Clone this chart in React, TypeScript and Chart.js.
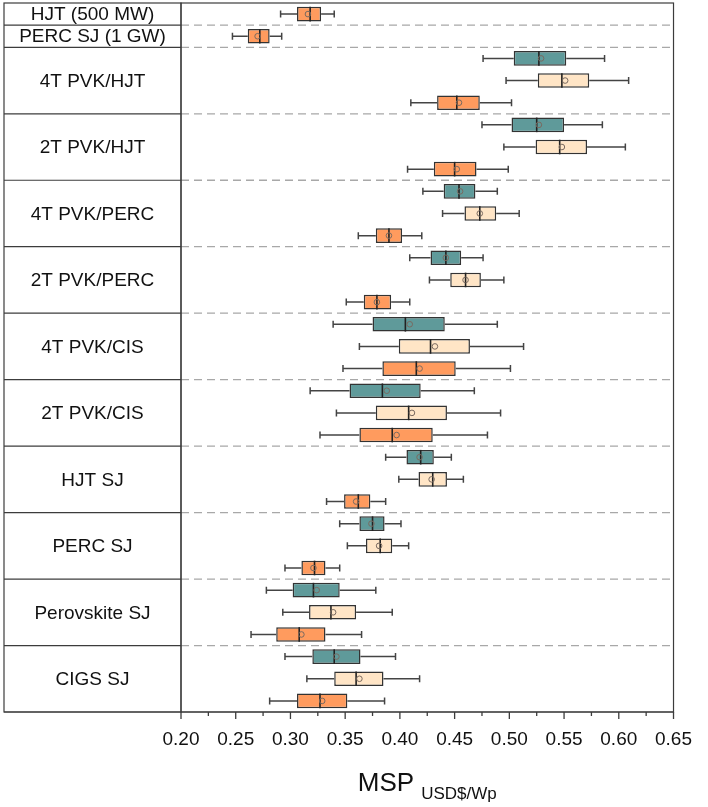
import React, { useEffect, useRef } from 'react';
import { Chart, registerables } from 'chart.js';
Chart.register(...registerables);

const singleRows = ['HJT (500 MW)', 'PERC SJ (1 GW)'];
const groups = ['4T PVK/HJT', '2T PVK/HJT', '4T PVK/PERC', '2T PVK/PERC', '4T PVK/CIS', '2T PVK/CIS', 'HJT SJ', 'PERC SJ', 'Perovskite SJ', 'CIGS SJ'];
const xTicks = [0.2, 0.25, 0.3, 0.35, 0.4, 0.45, 0.5, 0.55, 0.6, 0.65];

// teal series (one per group)
const tealMin = [0.476, 0.475, 0.421, 0.409, 0.339, 0.318, 0.387, 0.345, 0.278, 0.295];
const tealQ1 = [0.504, 0.502, 0.440, 0.428, 0.375, 0.354, 0.406, 0.363, 0.302, 0.320];
const tealMed = [0.527, 0.525, 0.454, 0.442, 0.405, 0.384, 0.419, 0.375, 0.321, 0.340];
const tealQ3 = [0.552, 0.550, 0.469, 0.456, 0.441, 0.419, 0.431, 0.386, 0.345, 0.364];
const tealMax = [0.587, 0.585, 0.489, 0.476, 0.489, 0.468, 0.447, 0.401, 0.378, 0.396];
const tealMean = [0.529, 0.527, 0.455, 0.442, 0.409, 0.388, 0.418, 0.374, 0.324, 0.342];

// light peach series (one per group)
const peachMin = [0.497, 0.495, 0.439, 0.427, 0.363, 0.342, 0.399, 0.352, 0.293, 0.315];
const peachQ1 = [0.526, 0.524, 0.459, 0.446, 0.399, 0.378, 0.417, 0.369, 0.317, 0.340];
const peachMed = [0.548, 0.546, 0.473, 0.460, 0.428, 0.408, 0.430, 0.382, 0.337, 0.360];
const peachQ3 = [0.573, 0.571, 0.488, 0.474, 0.464, 0.443, 0.443, 0.393, 0.360, 0.385];
const peachMax = [0.609, 0.606, 0.509, 0.495, 0.513, 0.492, 0.458, 0.408, 0.393, 0.418];
const peachMean = [0.551, 0.548, 0.473, 0.460, 0.432, 0.411, 0.429, 0.381, 0.339, 0.363];

// orange series (two single rows, then one per group)
const orangeMin = [0.291, 0.247, 0.410, 0.407, 0.362, 0.351, 0.348, 0.327, 0.333, 0.295, 0.264, 0.281];
const orangeQ1 = [0.306, 0.261, 0.434, 0.431, 0.378, 0.367, 0.384, 0.363, 0.349, 0.310, 0.287, 0.306];
const orangeMed = [0.318, 0.272, 0.452, 0.450, 0.390, 0.379, 0.415, 0.393, 0.362, 0.322, 0.308, 0.327];
const orangeQ3 = [0.328, 0.281, 0.473, 0.470, 0.402, 0.392, 0.451, 0.430, 0.373, 0.332, 0.332, 0.352];
const orangeMax = [0.340, 0.292, 0.502, 0.499, 0.420, 0.409, 0.501, 0.480, 0.387, 0.345, 0.365, 0.386];
const orangeMean = [0.316, 0.270, 0.454, 0.452, 0.390, 0.379, 0.418, 0.397, 0.360, 0.321, 0.310, 0.329];

const FONT = '"Liberation Sans", Arial, sans-serif';
const TEAL = '#5f9a9a';
const PEACH = '#ffe5c6';
const ORANGE = '#ff9b5e';
const EDGE = '#333333';

const nSlots = singleRows.length + groups.length * 3;
const slotLabels = Array.from({ length: nSlots }, (_, i) => 'slot' + i);

type Stat = { min: number; q1: number; med: number; q3: number; max: number; mean: number };
function buildSeries(which: 'teal' | 'peach' | 'orange'): (Stat | null)[] {
  const out: (Stat | null)[] = new Array(nSlots).fill(null);
  if (which === 'orange') {
    for (let i = 0; i < singleRows.length; i++) {
      out[i] = { min: orangeMin[i], q1: orangeQ1[i], med: orangeMed[i], q3: orangeQ3[i], max: orangeMax[i], mean: orangeMean[i] };
    }
  }
  for (let g = 0; g < groups.length; g++) {
    const base = singleRows.length + g * 3;
    if (which === 'teal') out[base] = { min: tealMin[g], q1: tealQ1[g], med: tealMed[g], q3: tealQ3[g], max: tealMax[g], mean: tealMean[g] };
    if (which === 'peach') out[base + 1] = { min: peachMin[g], q1: peachQ1[g], med: peachMed[g], q3: peachQ3[g], max: peachMax[g], mean: peachMean[g] };
    if (which === 'orange') {
      const k = singleRows.length + g;
      out[base + 2] = { min: orangeMin[k], q1: orangeQ1[k], med: orangeMed[k], q3: orangeQ3[k], max: orangeMax[k], mean: orangeMean[k] };
    }
  }
  return out;
}

const boxExtras = {
  id: 'boxExtras',
  beforeDatasetsDraw(chart: any) {
    const { ctx, chartArea } = chart;
    const y = chart.scales.y;
    ctx.save();
    ctx.strokeStyle = '#a8a8a8';
    ctx.lineWidth = 1.3;
    ctx.setLineDash([8, 5]);
    const bounds: number[] = [];
    for (let i = 0; i < singleRows.length; i++) bounds.push(i);
    for (let g = 0; g < groups.length - 1; g++) bounds.push(singleRows.length + g * 3 + 2);
    bounds.forEach((k) => {
      const py = (y.getPixelForValue(k) + y.getPixelForValue(k + 1)) / 2;
      ctx.beginPath();
      ctx.moveTo(chartArea.left, py);
      ctx.lineTo(chartArea.right, py);
      ctx.stroke();
    });
    ctx.setLineDash([]);
    const tl = 4;
    const tr = chartArea.left;
    ctx.strokeStyle = '#3c3c3c';
    ctx.lineWidth = 1.2;
    ctx.strokeRect(tl, chartArea.top, tr - tl, chartArea.bottom - chartArea.top);
    bounds.forEach((k) => {
      const py = (y.getPixelForValue(k) + y.getPixelForValue(k + 1)) / 2;
      ctx.beginPath();
      ctx.moveTo(tl, py);
      ctx.lineTo(tr, py);
      ctx.stroke();
    });
    ctx.fillStyle = '#111';
    ctx.font = '19px ' + FONT;
    ctx.textAlign = 'center';
    ctx.textBaseline = 'middle';
    const cx = (tl + tr) / 2;
    singleRows.forEach((lab, i) => ctx.fillText(lab, cx, y.getPixelForValue(i) + 1));
    groups.forEach((lab, g) => ctx.fillText(lab, cx, y.getPixelForValue(singleRows.length + g * 3 + 1) + 1));
    ctx.restore();
  },
  afterDatasetsDraw(chart: any) {
    const { ctx } = chart;
    const x = chart.scales.x;
    ctx.save();
    chart.data.datasets.forEach((ds: any, di: number) => {
      const meta = chart.getDatasetMeta(di);
      ds.stats.forEach((s: Stat | null, i: number) => {
        if (!s) return;
        const bar = meta.data[i];
        const cy = bar.y;
        const h = bar.height;
        const pMin = x.getPixelForValue(s.min);
        const pQ1 = x.getPixelForValue(s.q1);
        const pQ3 = x.getPixelForValue(s.q3);
        const pMax = x.getPixelForValue(s.max);
        const pMed = x.getPixelForValue(s.med);
        const pMean = x.getPixelForValue(s.mean);
        ctx.strokeStyle = '#444';
        ctx.lineWidth = 1.5;
        ctx.beginPath();
        ctx.moveTo(pMin, cy); ctx.lineTo(pQ1, cy);
        ctx.moveTo(pQ3, cy); ctx.lineTo(pMax, cy);
        ctx.moveTo(pMin, cy - 3.5); ctx.lineTo(pMin, cy + 3.5);
        ctx.moveTo(pMax, cy - 3.5); ctx.lineTo(pMax, cy + 3.5);
        ctx.stroke();
        ctx.strokeStyle = '#222';
        ctx.lineWidth = 1.6;
        ctx.beginPath();
        ctx.moveTo(pMed, cy - h / 2); ctx.lineTo(pMed, cy + h / 2);
        ctx.stroke();
        ctx.strokeStyle = '#7a6a60';
        ctx.lineWidth = 1;
        ctx.beginPath();
        ctx.arc(pMean, cy, 2.8, 0, Math.PI * 2);
        ctx.stroke();
      });
    });
    ctx.restore();
  },
  afterDraw(chart: any) {
    const { ctx, chartArea } = chart;
    const x = chart.scales.x;
    ctx.save();
    ctx.strokeStyle = '#3c3c3c';
    ctx.lineWidth = 1.2;
    ctx.strokeRect(chartArea.left, chartArea.top, chartArea.right - chartArea.left, chartArea.bottom - chartArea.top);
    ctx.beginPath();
    ctx.moveTo(4, chartArea.bottom);
    ctx.lineTo(chartArea.right, chartArea.bottom);
    ctx.stroke();
    ctx.lineWidth = 1.3;
    for (let k = 0; k < xTicks.length; k++) {
      const px = x.getPixelForValue(xTicks[k]);
      ctx.beginPath();
      ctx.moveTo(px, chartArea.bottom);
      ctx.lineTo(px, chartArea.bottom + 7);
      ctx.stroke();
      if (k < xTicks.length - 1) {
        const pm = x.getPixelForValue((xTicks[k] + xTicks[k + 1]) / 2);
        ctx.beginPath();
        ctx.moveTo(pm, chartArea.bottom);
        ctx.lineTo(pm, chartArea.bottom + 4);
        ctx.stroke();
      }
    }
    const main = 'MSP';
    const sub = 'USD$/Wp';
    ctx.fillStyle = '#111';
    ctx.textBaseline = 'alphabetic';
    ctx.textAlign = 'left';
    ctx.font = '26px ' + FONT;
    const wMain = ctx.measureText(main).width;
    ctx.font = '17px ' + FONT;
    const wSub = ctx.measureText(sub).width;
    const gap = 7;
    const total = wMain + gap + wSub;
    const start = (chartArea.left + chartArea.right) / 2 - total / 2;
    ctx.font = '26px ' + FONT;
    ctx.fillText(main, start, 791);
    ctx.font = '17px ' + FONT;
    ctx.fillText(sub, start + wMain + gap, 799);
    ctx.restore();
  },
};

export default function App() {
  const ref = useRef<HTMLCanvasElement>(null);
  useEffect(() => {
    if (!ref.current) return;
    const mk = (label: string, which: 'teal' | 'peach' | 'orange', color: string) => {
      const stats = buildSeries(which);
      return {
        label,
        data: stats.map((s) => (s ? [s.q1, s.q3] : null)),
        stats,
        backgroundColor: color,
        borderColor: EDGE,
        borderWidth: 1.5,
        borderSkipped: false,
        grouped: false,
        categoryPercentage: 1,
        barPercentage: 0.66,
      };
    };
    const chart = new Chart(ref.current, {
      type: 'bar',
      data: {
        labels: slotLabels,
        datasets: [mk('teal', 'teal', TEAL), mk('peach', 'peach', PEACH), mk('orange', 'orange', ORANGE)] as any,
      },
      options: {
        indexAxis: 'y',
        animation: false,
        responsive: false,
        events: [],
        layout: { padding: { left: 181, right: 19, top: 3, bottom: 0 } },
        plugins: { legend: { display: false }, tooltip: { enabled: false } },
        scales: {
          x: {
            type: 'linear',
            min: 0.2,
            max: 0.65,
            grid: { display: false, drawTicks: false },
            border: { display: false },
            ticks: {
              stepSize: 0.05,
              padding: 16,
              color: '#111',
              font: { size: 19, family: FONT },
              maxRotation: 0,
              autoSkip: false,
              callback: (v: any) => Number(v).toFixed(2),
            },
            afterFit: (scale: any) => { scale.height = 95; },
          },
          y: { type: 'category', display: false, offset: true, grid: { display: false } },
        },
      } as any,
      plugins: [boxExtras],
    });
    return () => chart.destroy();
  }, []);
  return (
    <div style={{ position: 'absolute', left: 0, top: 0, width: 708, height: 807, background: '#fff' }}>
      <canvas ref={ref} width={708} height={807} style={{ display: 'block' }} />
    </div>
  );
}
